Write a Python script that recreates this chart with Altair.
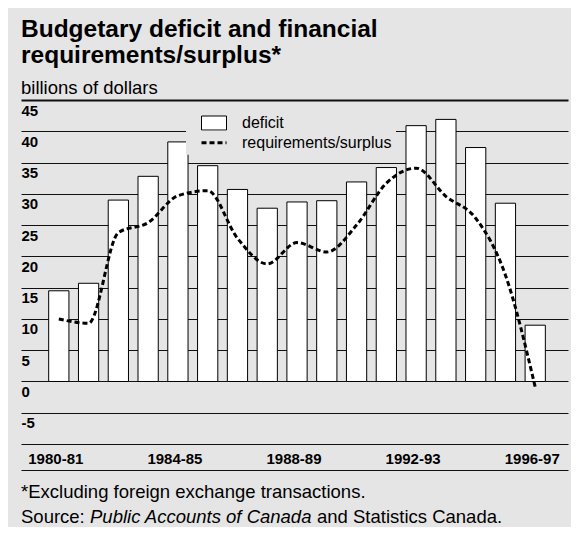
import altair as alt
import pandas as pd

# ---- data ----
years = ["1980-81", "1981-82", "1982-83", "1983-84", "1984-85", "1985-86",
         "1986-87", "1987-88", "1988-89", "1989-90", "1990-91", "1991-92",
         "1992-93", "1993-94", "1994-95", "1995-96", "1996-97"]
deficit = [14.5, 15.7, 29.0, 32.8, 38.3, 34.5, 30.7, 27.7, 28.7, 28.9,
           31.9, 34.2, 40.9, 41.9, 37.4, 28.5, 9.0]
requirements = [10.0, 9.3, 23.8, 25.4, 29.7, 30.5, 22.9, 18.8, 22.2, 20.7,
                25.0, 31.7, 34.1, 29.6, 26.1, 17.0, -0.9]
y_ticks = [-10, -5, 0, 5, 10, 15, 20, 25, 30, 35, 40, 45]
x_label_years = ["1980-81", "1984-85", "1988-89", "1992-93", "1996-97"]
series_names = ["deficit", "requirements/surplus"]
title_lines = ["Budgetary deficit and financial", "requirements/surplus*"]
subtitle_text = "billions of dollars"
footnote_text = "*Excluding foreign exchange transactions."
source_parts = ["Source:", "Public Accounts of Canada", "and Statistics Canada."]

FONT = "Liberation Sans"
BG = "#e5e5e5"
INK = "#111111"

df = pd.DataFrame({
    "year": years,
    "deficit": deficit,
    "requirements": requirements,
    "s1": series_names[0],
    "s2": series_names[1],
})

y_scale = alt.Scale(domain=[-14.15, 45], nice=False)

x_axis = alt.Axis(
    values=x_label_years, title=None, labelAngle=0, grid=False,
    ticks=False, tickSize=0, domain=True, domainColor=INK, domainWidth=1,
    labelBaseline="alphabetic", labelPadding=-7, labelOffset=-3,
    labelFont=FONT, labelFontSize=15, labelFontWeight="bold",
    labelColor="black", labelFlush=False, labelOverlap=False,
)
x_scale = alt.Scale(paddingInner=0.32, paddingOuter=0.845, align=0.55)

y_axis = alt.Axis(
    values=y_ticks, title=None, grid=True, gridColor=INK,
    gridWidth={"condition": {"test": "datum.value == 45", "value": 2}, "value": 1},
    domain=False, ticks=False, tickSize=0,
    labelAlign="left", labelBaseline="alphabetic", labelPadding=0, labelOffset=15,
    labelFont=FONT, labelFontSize=15, labelFontWeight="bold", labelColor="black",
    labelExpr="datum.value == -10 ? '' : '' + datum.value",
    labelFlush=False, labelOverlap=False,
)

bars = alt.Chart(df).mark_bar(stroke="black", strokeWidth=1).encode(
    x=alt.X("year:N", sort=years, scale=x_scale, axis=x_axis),
    y=alt.Y("deficit:Q", scale=y_scale, axis=y_axis),
    fill=alt.Fill(
        "s1:N", scale=alt.Scale(range=["white"]),
        legend=alt.Legend(
            orient="none", legendX=165, legendY=11, title=None,
            symbolType="M-2,-1.12L2,-1.12L2,1.12L-2,1.12Z", symbolSize=156.25,
            symbolStrokeColor="black", symbolStrokeWidth=1,
            symbolOffset=16, labelOffset=20,
            labelFont=FONT, labelFontSize=16, labelColor="black",
            padding=4, fillColor=BG,
        ),
    ),
)

line = alt.Chart(df).mark_line(
    interpolate="monotone", strokeWidth=3, color="black"
).encode(
    x=alt.X("year:N", sort=years, scale=x_scale, axis=x_axis),
    y=alt.Y("requirements:Q", scale=y_scale, axis=y_axis),
    strokeDash=alt.StrokeDash(
        "s2:N", scale=alt.Scale(range=[[5, 3]]),
        legend=alt.Legend(
            orient="none", legendX=165, legendY=30.7, title=None,
            symbolType="M-2,0L2,0", symbolSize=156.25,
            symbolStrokeColor="black", symbolStrokeWidth=3,
            symbolFillColor="transparent",
            symbolOffset=16, labelOffset=20,
            labelFont=FONT, labelFontSize=16, labelColor="black",
            padding=4, fillColor=BG,
        ),
    ),
)


def note(text, x, y, style="normal"):
    return alt.Chart(pd.DataFrame({"t": [text]})).mark_text(
        align="left", baseline="alphabetic", font=FONT, fontSize=18.5,
        fontStyle=style, color="black",
    ).encode(x=alt.value(x), y=alt.value(y), text="t:N")


foot1 = note(footnote_text, 0, 398.3)
src1 = note(source_parts[0], 0, 423.3)
src2 = note(source_parts[1], 69, 423.3, "italic")
src3 = note(source_parts[2], 296, 423.3)

chart = alt.layer(bars, line, foot1, src1, src2, src3).properties(
    width=547,
    height=370,
    title=alt.TitleParams(
        text=title_lines, subtitle=subtitle_text, anchor="start", frame="group",
        font=FONT, fontSize=24.5, fontWeight="bold", color="black", lineHeight=26,
        subtitleFont=FONT, subtitleFontSize=18.5, subtitleFontWeight="normal",
        subtitleColor="black", subtitlePadding=10, offset=2,
    ),
    autosize=alt.AutoSizeParams(type="none"),
    padding={"left": 13, "top": 92, "right": 3, "bottom": 57},
    background=BG,
).configure_view(stroke=None)

chart.save("out.html", embed_options={"renderer": "svg", "actions": False})
